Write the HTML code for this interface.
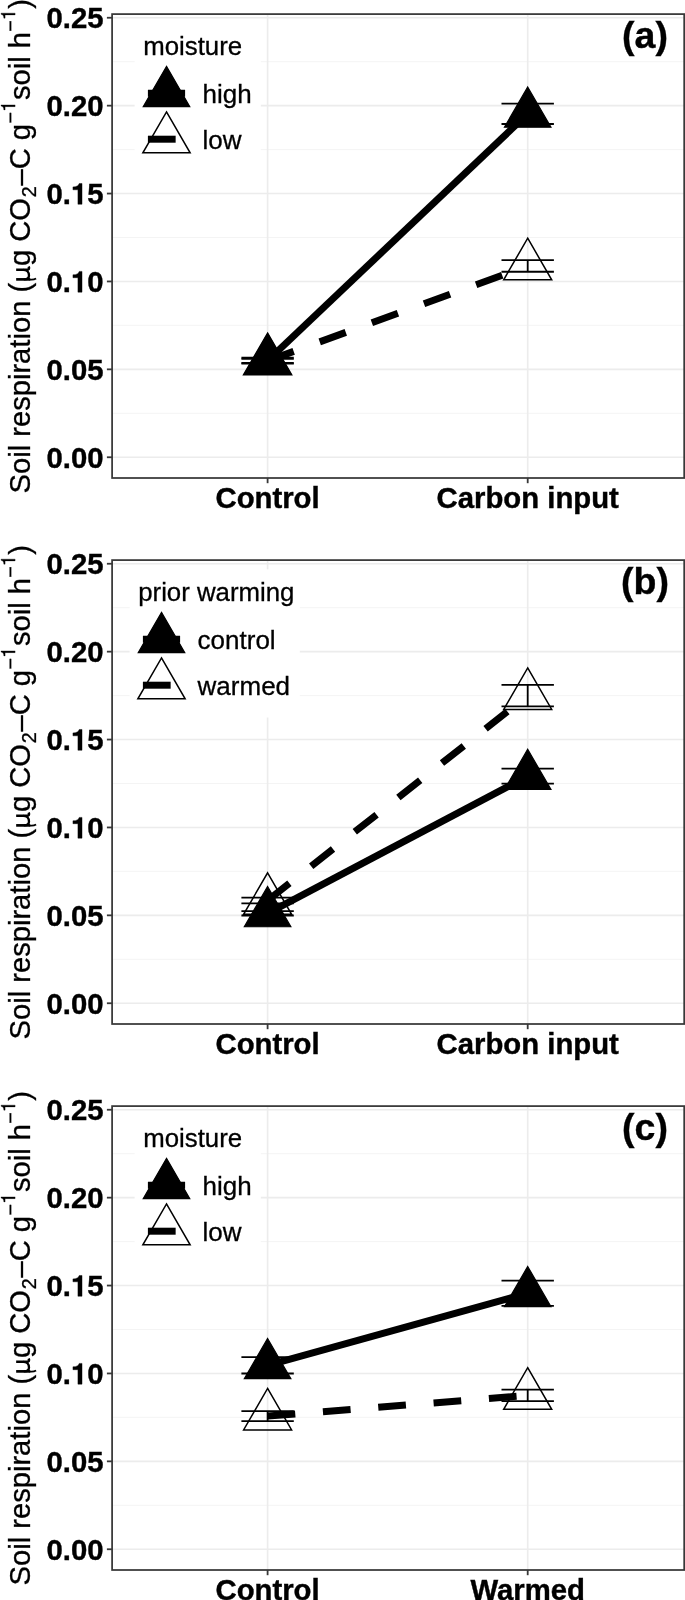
<!DOCTYPE html>
<html><head><meta charset="utf-8"><title>chart</title>
<style>
html,body{margin:0;padding:0;background:#fff;}
body{width:685px;height:1600px;overflow:hidden;}
svg{display:block;will-change:transform;filter:grayscale(1);}
text{font-family:"Liberation Sans",sans-serif;fill:#000;}
.tk{font-weight:bold;font-size:29.3px;stroke:#000;stroke-width:0.4px;}
.yl{font-size:29.17px;stroke:#000;stroke-width:0.3px;}
.sub{font-size:19.8px;}
.mu{fill:none;stroke:none;}
.pl{font-weight:bold;font-size:37.5px;stroke:#000;stroke-width:0.4px;}
.lg{font-size:26px;stroke:#000;stroke-width:0.3px;}
.lt{font-size:25.8px;stroke:#000;stroke-width:0.3px;}
</style></head><body>
<svg width="685" height="1600" viewBox="0 0 685 1600">
<rect width="685" height="1600" fill="#fff"/>
<g id="pa">
<line x1="112.1" x2="684.2" y1="413.3" y2="413.3" stroke="#f3f3f3" stroke-width="0.9"/>
<line x1="112.1" x2="684.2" y1="325.4" y2="325.4" stroke="#f3f3f3" stroke-width="0.9"/>
<line x1="112.1" x2="684.2" y1="237.5" y2="237.5" stroke="#f3f3f3" stroke-width="0.9"/>
<line x1="112.1" x2="684.2" y1="149.6" y2="149.6" stroke="#f3f3f3" stroke-width="0.9"/>
<line x1="112.1" x2="684.2" y1="61.7" y2="61.7" stroke="#f3f3f3" stroke-width="0.9"/>
<line x1="112.1" x2="684.2" y1="457.25" y2="457.25" stroke="#ececec" stroke-width="1.6"/>
<line x1="112.1" x2="684.2" y1="369.35" y2="369.35" stroke="#ececec" stroke-width="1.6"/>
<line x1="112.1" x2="684.2" y1="281.45" y2="281.45" stroke="#ececec" stroke-width="1.6"/>
<line x1="112.1" x2="684.2" y1="193.55" y2="193.55" stroke="#ececec" stroke-width="1.6"/>
<line x1="112.1" x2="684.2" y1="105.65" y2="105.65" stroke="#ececec" stroke-width="1.6"/>
<line x1="112.1" x2="684.2" y1="17.75" y2="17.75" stroke="#ececec" stroke-width="1.6"/>
<line x1="267.6" x2="267.6" y1="14.1" y2="478" stroke="#ececec" stroke-width="1.6"/>
<line x1="527.7" x2="527.7" y1="14.1" y2="478" stroke="#ececec" stroke-width="1.6"/>
<path d="M241.4 357.7H293.8M241.4 363.7H293.8M267.6 357.7V363.7" stroke="#000" stroke-width="1.8" fill="none"/>
<path d="M501.5 103.6H553.9M501.5 124H553.9M527.7 103.6V124" stroke="#000" stroke-width="1.8" fill="none"/>
<path d="M241.4 358.95H293.8M241.4 362.85H293.8M267.6 358.95V362.85" stroke="#000" stroke-width="1.8" fill="none"/>
<path d="M501.5 260.05H553.9M501.5 271.75H553.9M527.7 260.05V271.75" stroke="#000" stroke-width="1.8" fill="none"/>
<line x1="267.6" y1="360.7" x2="527.7" y2="113.8" stroke="#000" stroke-width="7.0"/>
<line x1="267.6" y1="360.9" x2="527.7" y2="265.9" stroke="#000" stroke-width="7.0" stroke-dasharray="27.75 27.75"/>
<polygon points="267.6,333.85 290.85,374.12 244.35,374.12" fill="#000" stroke="#000" stroke-width="1.2"/>
<polygon points="527.7,86.95 550.95,127.22 504.45,127.22" fill="#000" stroke="#000" stroke-width="1.2"/>
<polygon points="267.6,333.2 291.59,374.75 243.61,374.75" fill="none" stroke="#000" stroke-width="1.5"/>
<polygon points="527.7,238.2 551.69,279.75 503.71,279.75" fill="none" stroke="#000" stroke-width="1.5"/>
<rect x="134.6" y="23.3" width="126.2" height="148.2" fill="#fff"/>
<text x="143.2" y="54.8" class="lt">moisture</text>
<line x1="147.9" x2="185.1" y1="93.2" y2="93.2" stroke="#000" stroke-width="7.0"/>
<line x1="147.9" x2="185.1" y1="139.2" y2="139.2" stroke="#000" stroke-width="7.0" stroke-dasharray="27.75 27.75"/>
<polygon points="166.5,66.35 189.75,106.62 143.25,106.62" fill="#000" stroke="#000" stroke-width="1.2"/>
<polygon points="166.5,111.9 190.14,152.85 142.86,152.85" fill="none" stroke="#000" stroke-width="1.5"/>
<text x="202.6" y="102.6" class="lg">high</text>
<text x="202.6" y="148.6" class="lg">low</text>
<rect x="112.1" y="14.1" width="572.1" height="463.9" fill="none" stroke="#383838" stroke-width="1.75"/>
<line x1="106.9" x2="112.1" y1="457.25" y2="457.25" stroke="#383838" stroke-width="1.8"/>
<text x="103.5" y="467.95" text-anchor="end" class="tk">0.00</text>
<line x1="106.9" x2="112.1" y1="369.35" y2="369.35" stroke="#383838" stroke-width="1.8"/>
<text x="103.5" y="380.05" text-anchor="end" class="tk">0.05</text>
<line x1="106.9" x2="112.1" y1="281.45" y2="281.45" stroke="#383838" stroke-width="1.8"/>
<text x="70.92" y="292.15" text-anchor="end" class="tk">0.</text>
<path transform="translate(70.92,292.15) scale(0.02930,-0.02930)" d="M379 0H239V493H69V593C190 597 262 627 283 709H379Z" fill="#000" stroke="#000" stroke-width="13.7"/>
<text x="87.21" y="292.15" class="tk">0</text>
<line x1="106.9" x2="112.1" y1="193.55" y2="193.55" stroke="#383838" stroke-width="1.8"/>
<text x="70.92" y="204.25" text-anchor="end" class="tk">0.</text>
<path transform="translate(70.92,204.25) scale(0.02930,-0.02930)" d="M379 0H239V493H69V593C190 597 262 627 283 709H379Z" fill="#000" stroke="#000" stroke-width="13.7"/>
<text x="87.21" y="204.25" class="tk">5</text>
<line x1="106.9" x2="112.1" y1="105.65" y2="105.65" stroke="#383838" stroke-width="1.8"/>
<text x="103.5" y="116.35" text-anchor="end" class="tk">0.20</text>
<line x1="106.9" x2="112.1" y1="17.75" y2="17.75" stroke="#383838" stroke-width="1.8"/>
<text x="103.5" y="28.45" text-anchor="end" class="tk">0.25</text>
<line x1="267.6" x2="267.6" y1="478" y2="483.2" stroke="#383838" stroke-width="1.8"/>
<text x="267.6" y="507.9" text-anchor="middle" class="tk">Control</text>
<line x1="527.7" x2="527.7" y1="478" y2="483.2" stroke="#383838" stroke-width="1.8"/>
<text x="527.7" y="507.9" text-anchor="middle" class="tk">Carbon input</text>
<g transform="translate(30.1,493.5) rotate(-90)"><text class="yl">Soil respiration (<tspan class="mu">µ</tspan>g CO<tspan dy="5.7" dx="0.6" class="sub">2</tspan><tspan dy="-5.7" dx="0.8">–C g</tspan><tspan dy="-13.6" dx="0.5" class="sub s1">−</tspan><tspan dy="13.6" dx="11.81">soil h</tspan><tspan dy="-13.6" dx="0.3" class="sub s1">−</tspan><tspan dy="13.6" dx="11.41">)</tspan></text><path transform="translate(381.62,-15) scale(0.01980,-0.01980)" d="M353 0H265V505H101V568C215 578 268 600 293 709H353Z" fill="#000" stroke="#000" stroke-width="15.2"/><path transform="translate(473.37,-15) scale(0.01980,-0.01980)" d="M353 0H265V505H101V568C215 578 268 600 293 709H353Z" fill="#000" stroke="#000" stroke-width="15.2"/><g transform="translate(210.67,0) scale(0.02917,-0.02917)" fill="none" stroke="#000" stroke-width="92"><path d="M118 478V-5"/><path d="M112 20C100 -70 112 -150 150 -205" stroke-width="60"/><path d="M118 215C118 75 185 38 255 38C345 38 446 95 446 240" stroke-width="80"/><path d="M446 478V120C446 45 485 20 560 48" stroke-width="88"/></g></g>
<text x="645" y="48.1" text-anchor="middle" class="pl">(a)</text>
</g>
<g id="pb">
<line x1="112.1" x2="684.2" y1="959.3" y2="959.3" stroke="#f3f3f3" stroke-width="0.9"/>
<line x1="112.1" x2="684.2" y1="871.4" y2="871.4" stroke="#f3f3f3" stroke-width="0.9"/>
<line x1="112.1" x2="684.2" y1="783.5" y2="783.5" stroke="#f3f3f3" stroke-width="0.9"/>
<line x1="112.1" x2="684.2" y1="695.6" y2="695.6" stroke="#f3f3f3" stroke-width="0.9"/>
<line x1="112.1" x2="684.2" y1="607.7" y2="607.7" stroke="#f3f3f3" stroke-width="0.9"/>
<line x1="112.1" x2="684.2" y1="1003.25" y2="1003.25" stroke="#ececec" stroke-width="1.6"/>
<line x1="112.1" x2="684.2" y1="915.35" y2="915.35" stroke="#ececec" stroke-width="1.6"/>
<line x1="112.1" x2="684.2" y1="827.45" y2="827.45" stroke="#ececec" stroke-width="1.6"/>
<line x1="112.1" x2="684.2" y1="739.55" y2="739.55" stroke="#ececec" stroke-width="1.6"/>
<line x1="112.1" x2="684.2" y1="651.65" y2="651.65" stroke="#ececec" stroke-width="1.6"/>
<line x1="112.1" x2="684.2" y1="563.75" y2="563.75" stroke="#ececec" stroke-width="1.6"/>
<line x1="267.6" x2="267.6" y1="560.1" y2="1024" stroke="#ececec" stroke-width="1.6"/>
<line x1="527.7" x2="527.7" y1="560.1" y2="1024" stroke="#ececec" stroke-width="1.6"/>
<path d="M241.4 897.65H293.8M241.4 903.35H293.8M267.6 897.65V903.35" stroke="#000" stroke-width="1.8" fill="none"/>
<path d="M501.5 684.9H553.9M501.5 706.3H553.9M527.7 684.9V706.3" stroke="#000" stroke-width="1.8" fill="none"/>
<path d="M241.4 911.1H293.8M241.4 915.5H293.8M267.6 911.1V915.5" stroke="#000" stroke-width="1.8" fill="none"/>
<path d="M501.5 768.65H553.9M501.5 783.55H553.9M527.7 768.65V783.55" stroke="#000" stroke-width="1.8" fill="none"/>
<line x1="267.6" y1="900.5" x2="527.7" y2="695.6" stroke="#000" stroke-width="7.0" stroke-dasharray="27.75 27.75"/>
<line x1="267.6" y1="913.3" x2="527.7" y2="776.1" stroke="#000" stroke-width="7.0"/>
<polygon points="267.6,872.8 291.59,914.35 243.61,914.35" fill="none" stroke="#000" stroke-width="1.5"/>
<polygon points="527.7,667.9 551.69,709.45 503.71,709.45" fill="none" stroke="#000" stroke-width="1.5"/>
<polygon points="267.6,886.45 290.85,926.73 244.35,926.73" fill="#000" stroke="#000" stroke-width="1.2"/>
<polygon points="527.7,749.25 550.95,789.52 504.45,789.52" fill="#000" stroke="#000" stroke-width="1.2"/>
<rect x="129.6" y="569.3" width="170.2" height="148.2" fill="#fff"/>
<text x="138.2" y="600.8" class="lt">prior warming</text>
<line x1="142.9" x2="180.1" y1="639.2" y2="639.2" stroke="#000" stroke-width="7.0"/>
<line x1="142.9" x2="180.1" y1="685.2" y2="685.2" stroke="#000" stroke-width="7.0" stroke-dasharray="27.75 27.75"/>
<polygon points="161.5,612.35 184.75,652.62 138.25,652.62" fill="#000" stroke="#000" stroke-width="1.2"/>
<polygon points="161.5,657.9 185.14,698.85 137.86,698.85" fill="none" stroke="#000" stroke-width="1.5"/>
<text x="197.6" y="648.6" class="lg">control</text>
<text x="197.6" y="694.6" class="lg">warmed</text>
<rect x="112.1" y="560.1" width="572.1" height="463.9" fill="none" stroke="#383838" stroke-width="1.75"/>
<line x1="106.9" x2="112.1" y1="1003.25" y2="1003.25" stroke="#383838" stroke-width="1.8"/>
<text x="103.5" y="1013.95" text-anchor="end" class="tk">0.00</text>
<line x1="106.9" x2="112.1" y1="915.35" y2="915.35" stroke="#383838" stroke-width="1.8"/>
<text x="103.5" y="926.05" text-anchor="end" class="tk">0.05</text>
<line x1="106.9" x2="112.1" y1="827.45" y2="827.45" stroke="#383838" stroke-width="1.8"/>
<text x="70.92" y="838.15" text-anchor="end" class="tk">0.</text>
<path transform="translate(70.92,838.15) scale(0.02930,-0.02930)" d="M379 0H239V493H69V593C190 597 262 627 283 709H379Z" fill="#000" stroke="#000" stroke-width="13.7"/>
<text x="87.21" y="838.15" class="tk">0</text>
<line x1="106.9" x2="112.1" y1="739.55" y2="739.55" stroke="#383838" stroke-width="1.8"/>
<text x="70.92" y="750.25" text-anchor="end" class="tk">0.</text>
<path transform="translate(70.92,750.25) scale(0.02930,-0.02930)" d="M379 0H239V493H69V593C190 597 262 627 283 709H379Z" fill="#000" stroke="#000" stroke-width="13.7"/>
<text x="87.21" y="750.25" class="tk">5</text>
<line x1="106.9" x2="112.1" y1="651.65" y2="651.65" stroke="#383838" stroke-width="1.8"/>
<text x="103.5" y="662.35" text-anchor="end" class="tk">0.20</text>
<line x1="106.9" x2="112.1" y1="563.75" y2="563.75" stroke="#383838" stroke-width="1.8"/>
<text x="103.5" y="574.45" text-anchor="end" class="tk">0.25</text>
<line x1="267.6" x2="267.6" y1="1024" y2="1029.2" stroke="#383838" stroke-width="1.8"/>
<text x="267.6" y="1053.9" text-anchor="middle" class="tk">Control</text>
<line x1="527.7" x2="527.7" y1="1024" y2="1029.2" stroke="#383838" stroke-width="1.8"/>
<text x="527.7" y="1053.9" text-anchor="middle" class="tk">Carbon input</text>
<g transform="translate(30.1,1039.5) rotate(-90)"><text class="yl">Soil respiration (<tspan class="mu">µ</tspan>g CO<tspan dy="5.7" dx="0.6" class="sub">2</tspan><tspan dy="-5.7" dx="0.8">–C g</tspan><tspan dy="-13.6" dx="0.5" class="sub s1">−</tspan><tspan dy="13.6" dx="11.81">soil h</tspan><tspan dy="-13.6" dx="0.3" class="sub s1">−</tspan><tspan dy="13.6" dx="11.41">)</tspan></text><path transform="translate(381.62,-15) scale(0.01980,-0.01980)" d="M353 0H265V505H101V568C215 578 268 600 293 709H353Z" fill="#000" stroke="#000" stroke-width="15.2"/><path transform="translate(473.37,-15) scale(0.01980,-0.01980)" d="M353 0H265V505H101V568C215 578 268 600 293 709H353Z" fill="#000" stroke="#000" stroke-width="15.2"/><g transform="translate(210.67,0) scale(0.02917,-0.02917)" fill="none" stroke="#000" stroke-width="92"><path d="M118 478V-5"/><path d="M112 20C100 -70 112 -150 150 -205" stroke-width="60"/><path d="M118 215C118 75 185 38 255 38C345 38 446 95 446 240" stroke-width="80"/><path d="M446 478V120C446 45 485 20 560 48" stroke-width="88"/></g></g>
<text x="645" y="594.1" text-anchor="middle" class="pl">(b)</text>
</g>
<g id="pc">
<line x1="112.1" x2="684.2" y1="1505.3" y2="1505.3" stroke="#f3f3f3" stroke-width="0.9"/>
<line x1="112.1" x2="684.2" y1="1417.4" y2="1417.4" stroke="#f3f3f3" stroke-width="0.9"/>
<line x1="112.1" x2="684.2" y1="1329.5" y2="1329.5" stroke="#f3f3f3" stroke-width="0.9"/>
<line x1="112.1" x2="684.2" y1="1241.6" y2="1241.6" stroke="#f3f3f3" stroke-width="0.9"/>
<line x1="112.1" x2="684.2" y1="1153.7" y2="1153.7" stroke="#f3f3f3" stroke-width="0.9"/>
<line x1="112.1" x2="684.2" y1="1549.25" y2="1549.25" stroke="#ececec" stroke-width="1.6"/>
<line x1="112.1" x2="684.2" y1="1461.35" y2="1461.35" stroke="#ececec" stroke-width="1.6"/>
<line x1="112.1" x2="684.2" y1="1373.45" y2="1373.45" stroke="#ececec" stroke-width="1.6"/>
<line x1="112.1" x2="684.2" y1="1285.55" y2="1285.55" stroke="#ececec" stroke-width="1.6"/>
<line x1="112.1" x2="684.2" y1="1197.65" y2="1197.65" stroke="#ececec" stroke-width="1.6"/>
<line x1="112.1" x2="684.2" y1="1109.75" y2="1109.75" stroke="#ececec" stroke-width="1.6"/>
<line x1="267.6" x2="267.6" y1="1106.1" y2="1570" stroke="#ececec" stroke-width="1.6"/>
<line x1="527.7" x2="527.7" y1="1106.1" y2="1570" stroke="#ececec" stroke-width="1.6"/>
<path d="M241.4 1357.1H293.8M241.4 1373.5H293.8M267.6 1357.1V1373.5" stroke="#000" stroke-width="1.8" fill="none"/>
<path d="M501.5 1280.65H553.9M501.5 1305.95H553.9M527.7 1280.65V1305.95" stroke="#000" stroke-width="1.8" fill="none"/>
<path d="M241.4 1411.1H293.8M241.4 1421.1H293.8M267.6 1411.1V1421.1" stroke="#000" stroke-width="1.8" fill="none"/>
<path d="M501.5 1389.7H553.9M501.5 1401.1H553.9M527.7 1389.7V1401.1" stroke="#000" stroke-width="1.8" fill="none"/>
<line x1="267.6" y1="1365.3" x2="527.7" y2="1293.3" stroke="#000" stroke-width="7.0"/>
<line x1="267.6" y1="1416.1" x2="527.7" y2="1395.4" stroke="#000" stroke-width="7.0" stroke-dasharray="27.75 27.75"/>
<polygon points="267.6,1338.45 290.85,1378.72 244.35,1378.72" fill="#000" stroke="#000" stroke-width="1.2"/>
<polygon points="527.7,1266.45 550.95,1306.72 504.45,1306.72" fill="#000" stroke="#000" stroke-width="1.2"/>
<polygon points="267.6,1388.4 291.59,1429.95 243.61,1429.95" fill="none" stroke="#000" stroke-width="1.5"/>
<polygon points="527.7,1367.7 551.69,1409.25 503.71,1409.25" fill="none" stroke="#000" stroke-width="1.5"/>
<rect x="134.6" y="1115.3" width="126.2" height="148.2" fill="#fff"/>
<text x="143.2" y="1146.8" class="lt">moisture</text>
<line x1="147.9" x2="185.1" y1="1185.2" y2="1185.2" stroke="#000" stroke-width="7.0"/>
<line x1="147.9" x2="185.1" y1="1231.2" y2="1231.2" stroke="#000" stroke-width="7.0" stroke-dasharray="27.75 27.75"/>
<polygon points="166.5,1158.35 189.75,1198.62 143.25,1198.62" fill="#000" stroke="#000" stroke-width="1.2"/>
<polygon points="166.5,1203.9 190.14,1244.85 142.86,1244.85" fill="none" stroke="#000" stroke-width="1.5"/>
<text x="202.6" y="1194.6" class="lg">high</text>
<text x="202.6" y="1240.6" class="lg">low</text>
<rect x="112.1" y="1106.1" width="572.1" height="463.9" fill="none" stroke="#383838" stroke-width="1.75"/>
<line x1="106.9" x2="112.1" y1="1549.25" y2="1549.25" stroke="#383838" stroke-width="1.8"/>
<text x="103.5" y="1559.95" text-anchor="end" class="tk">0.00</text>
<line x1="106.9" x2="112.1" y1="1461.35" y2="1461.35" stroke="#383838" stroke-width="1.8"/>
<text x="103.5" y="1472.05" text-anchor="end" class="tk">0.05</text>
<line x1="106.9" x2="112.1" y1="1373.45" y2="1373.45" stroke="#383838" stroke-width="1.8"/>
<text x="70.92" y="1384.15" text-anchor="end" class="tk">0.</text>
<path transform="translate(70.92,1384.15) scale(0.02930,-0.02930)" d="M379 0H239V493H69V593C190 597 262 627 283 709H379Z" fill="#000" stroke="#000" stroke-width="13.7"/>
<text x="87.21" y="1384.15" class="tk">0</text>
<line x1="106.9" x2="112.1" y1="1285.55" y2="1285.55" stroke="#383838" stroke-width="1.8"/>
<text x="70.92" y="1296.25" text-anchor="end" class="tk">0.</text>
<path transform="translate(70.92,1296.25) scale(0.02930,-0.02930)" d="M379 0H239V493H69V593C190 597 262 627 283 709H379Z" fill="#000" stroke="#000" stroke-width="13.7"/>
<text x="87.21" y="1296.25" class="tk">5</text>
<line x1="106.9" x2="112.1" y1="1197.65" y2="1197.65" stroke="#383838" stroke-width="1.8"/>
<text x="103.5" y="1208.35" text-anchor="end" class="tk">0.20</text>
<line x1="106.9" x2="112.1" y1="1109.75" y2="1109.75" stroke="#383838" stroke-width="1.8"/>
<text x="103.5" y="1120.45" text-anchor="end" class="tk">0.25</text>
<line x1="267.6" x2="267.6" y1="1570" y2="1575.2" stroke="#383838" stroke-width="1.8"/>
<text x="267.6" y="1599.9" text-anchor="middle" class="tk">Control</text>
<line x1="527.7" x2="527.7" y1="1570" y2="1575.2" stroke="#383838" stroke-width="1.8"/>
<text x="527.7" y="1599.9" text-anchor="middle" class="tk">Warmed</text>
<g transform="translate(30.1,1585.5) rotate(-90)"><text class="yl">Soil respiration (<tspan class="mu">µ</tspan>g CO<tspan dy="5.7" dx="0.6" class="sub">2</tspan><tspan dy="-5.7" dx="0.8">–C g</tspan><tspan dy="-13.6" dx="0.5" class="sub s1">−</tspan><tspan dy="13.6" dx="11.81">soil h</tspan><tspan dy="-13.6" dx="0.3" class="sub s1">−</tspan><tspan dy="13.6" dx="11.41">)</tspan></text><path transform="translate(381.62,-15) scale(0.01980,-0.01980)" d="M353 0H265V505H101V568C215 578 268 600 293 709H353Z" fill="#000" stroke="#000" stroke-width="15.2"/><path transform="translate(473.37,-15) scale(0.01980,-0.01980)" d="M353 0H265V505H101V568C215 578 268 600 293 709H353Z" fill="#000" stroke="#000" stroke-width="15.2"/><g transform="translate(210.67,0) scale(0.02917,-0.02917)" fill="none" stroke="#000" stroke-width="92"><path d="M118 478V-5"/><path d="M112 20C100 -70 112 -150 150 -205" stroke-width="60"/><path d="M118 215C118 75 185 38 255 38C345 38 446 95 446 240" stroke-width="80"/><path d="M446 478V120C446 45 485 20 560 48" stroke-width="88"/></g></g>
<text x="645" y="1140.1" text-anchor="middle" class="pl">(c)</text>
</g>
</svg>
</body></html>
